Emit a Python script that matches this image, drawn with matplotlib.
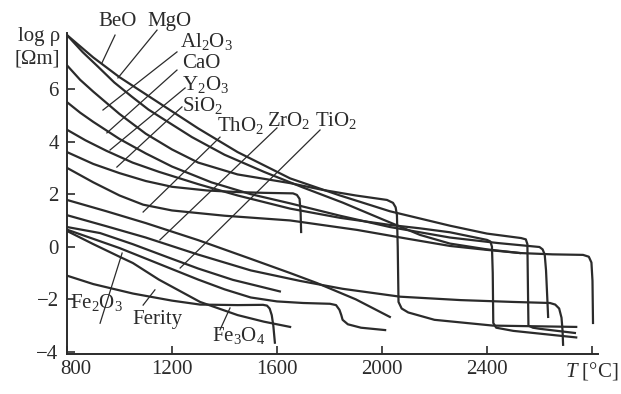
import matplotlib
matplotlib.use('Agg')
import matplotlib.pyplot as plt
import matplotlib.transforms as mtransforms


# resistivity curves, log rho [Ohm m] against T [C]
BEO_T = [800, 900, 1000, 1100, 1200, 1300, 1450, 1650, 1840, 2030, 2259, 2400, 2530, 2548, 2554,
         2556, 2558, 2575, 2600, 2735]
BEO_R = [8.05, 7.2, 6.45, 5.8, 5.15, 4.5, 3.6, 2.6, 1.95, 1.35, 0.8, 0.5, 0.33, 0.28, 0.1,
         -1.5, -3.0, -3.08, -3.12, -3.28]

MGO_T = [800, 860, 918, 980, 1048, 1110, 1173, 1276, 1400, 1550, 1700, 1850, 2000, 2145, 2259,
         2400, 2526, 2650, 2766, 2788, 2798, 2802, 2804]
MGO_R = [8.05, 7.4, 6.85, 6.25, 5.7, 5.22, 4.82, 4.17, 3.5, 2.85, 2.25, 1.68, 1.05, 0.45, 0.12,
         -0.1, -0.24, -0.29, -0.31, -0.38, -0.6, -1.3, -2.9]

AL2O3_T = [800, 850, 900, 1000, 1100, 1200, 1300, 1450, 1650, 1775, 1900, 2019, 2042, 2052, 2057,
           2060, 2063, 2075, 2100, 2200, 2423, 2740]
AL2O3_R = [6.9, 6.35, 5.9, 5.05, 4.3, 3.7, 3.2, 2.75, 2.42, 2.16, 1.95, 1.78, 1.67, 1.5, 1.2,
           0.0, -2.1, -2.35, -2.5, -2.78, -3.0, -3.05]

CAO_T = [800, 850, 900, 1000, 1100, 1200, 1350, 1500, 1650, 1840, 2030, 2259, 2442, 2600, 2612,
         2620, 2625, 2630, 2633]
CAO_R = [5.5, 5.1, 4.75, 4.1, 3.55, 3.05, 2.45, 2.0, 1.65, 1.18, 0.75, 0.35, 0.14, -0.01, -0.1,
         -0.3, -0.9, -2.0, -2.67]

Y2O3_T = [800, 870, 950, 1050, 1150, 1300, 1450, 1650, 1840, 2030, 2145, 2259, 2400, 2413, 2419,
          2422, 2424, 2435, 2500, 2740]
Y2O3_R = [4.45, 4.05, 3.65, 3.2, 2.85, 2.38, 1.95, 1.45, 1.1, 0.83, 0.7, 0.55, 0.26, 0.2, 0.0,
          -1.0, -2.9, -3.08, -3.2, -3.45]

SIO2_T = [800, 900, 1000, 1100, 1200, 1333, 1450, 1550, 1661, 1676, 1686, 1690, 1692]
SIO2_R = [3.6, 3.15, 2.8, 2.5, 2.28, 2.14, 2.08, 2.05, 2.03, 1.97, 1.82, 1.3, 0.56]

THO2_T = [800, 900, 1000, 1090, 1200, 1400, 1650, 1905, 2100, 2259, 2400, 2526]
THO2_R = [3.0, 2.45, 1.95, 1.6, 1.38, 1.18, 1.0, 0.64, 0.3, 0.03, -0.12, -0.24]

OTHER_T = [800, 950, 1100, 1300, 1497, 1650, 1752, 1900, 2030]
OTHER_R = [1.78, 1.35, 0.9, 0.25, -0.45, -1.0, -1.38, -2.0, -2.67]

ZRO2_T = [800, 950, 1100, 1300, 1500, 1688, 1850, 2069, 2300, 2500, 2640, 2660, 2675, 2684,
          2688, 2690]
ZRO2_R = [1.2, 0.78, 0.35, -0.3, -0.9, -1.3, -1.6, -1.9, -2.03, -2.1, -2.14, -2.2, -2.35, -2.7,
          -3.2, -3.73]

TIO2_T = [800, 900, 1000, 1100, 1200, 1300, 1400, 1500, 1600, 1700, 1802, 1825, 1838, 1845,
          1850, 1870, 1920, 2012]
TIO2_R = [0.65, 0.3, -0.05, -0.45, -0.85, -1.25, -1.62, -1.93, -2.08, -2.14, -2.17, -2.22, -2.4,
          -2.6, -2.78, -2.95, -3.08, -3.17]

FE2O3_T = [800, 926, 1050, 1181, 1300, 1432, 1530, 1611]
FE2O3_R = [0.75, 0.52, 0.1, -0.39, -0.83, -1.26, -1.5, -1.7]

FERITY_T = [800, 900, 1000, 1051, 1150, 1307, 1450, 1550, 1650]
FERITY_R = [0.6, 0.1, -0.38, -0.62, -1.25, -2.1, -2.6, -2.85, -3.05]

FE3O4_T = [800, 900, 1051, 1200, 1307, 1450, 1547, 1562, 1572, 1580, 1586, 1592]
FE3O4_R = [-1.1, -1.42, -1.78, -2.05, -2.2, -2.22, -2.21, -2.24, -2.35, -2.6, -3.0, -3.65]

X_TICKS = [800, 1200, 1600, 2000, 2400, 2800]
X_TICK_LABELS = ['800', '1200', '1600', '2000', '2400', '$T$ [°C]']
Y_TICKS = [-4, -2, 0, 2, 4, 6]

# label text, text anchor (left edge), leader line start, leader line end
LABELS = [
    ('BeO', (918, 8.55), (983, 8.05), (933, 6.99)),
    ('MgO', (1105, 8.55), (1143, 8.24), (994, 6.42)),
    ('Al$_2$O$_3$', (1230, 7.8), (1219, 7.41), (937, 5.20)),
    ('CaO', (1238, 6.98), (1219, 6.72), (952, 4.33)),
    ('Y$_2$O$_3$', (1238, 6.19), (1250, 6.04), (964, 3.68)),
    ('SiO$_2$', (1238, 5.39), (1238, 5.32), (990, 3.03)),
    ('ThO$_2$', (1371, 4.63), (1383, 4.17), (1090, 1.32)),
    ('ZrO$_2$', (1562, 4.82), (1600, 4.52), (1154, 0.26)),
    ('TiO$_2$', (1745, 4.82), (1764, 4.44), (1231, -0.81)),
    ('Fe$_2$O$_3$', (811, -2.14), (926, -2.91), (1010, -0.24)),
    ('Ferity', (1048, -2.78), (1090, -2.22), (1135, -1.64)),
    ('Fe$_3$O$_4$', (1352, -3.39), (1383, -3.16), (1421, -2.33)),
]

INK = '#2b2b2b'

plt.rcParams['font.family'] = ['Liberation Serif', 'DejaVu Serif']
plt.rcParams['mathtext.fontset'] = 'custom'
plt.rcParams['mathtext.rm'] = 'Liberation Serif'
plt.rcParams['mathtext.it'] = 'Liberation Serif:italic'
plt.rcParams['font.size'] = 15

fig = plt.figure(figsize=(6.21, 3.94), dpi=100)
ax = fig.add_axes([67 / 621, 1 - 354 / 394, 531 / 621, 321 / 394])

curves = [
    (BEO_T, BEO_R), (MGO_T, MGO_R), (AL2O3_T, AL2O3_R), (CAO_T, CAO_R),
    (Y2O3_T, Y2O3_R), (SIO2_T, SIO2_R), (THO2_T, THO2_R), (OTHER_T, OTHER_R),
    (ZRO2_T, ZRO2_R), (TIO2_T, TIO2_R), (FE2O3_T, FE2O3_R), (FERITY_T, FERITY_R),
    (FE3O4_T, FE3O4_R),
]
for t, r in curves:
    ax.plot(t, r, color=INK, lw=1.6, solid_joinstyle='round')

for text, pos, start, end in LABELS:
    ax.plot([start[0], end[0]], [start[1], end[1]], color=INK, lw=0.9, clip_on=False)
    ax.text(pos[0], pos[1], text, ha='left', va='center', color=INK)

# 'log rho' axis title sits at the top of the y axis
ax.text(773, 8.0, 'log ρ', ha='right', va='center', color=INK)
ax.text(773, 7.15, '[Ωm]', ha='right', va='center', color=INK)

ax.set_xlim(800, 2823)
ax.set_ylim(-4.08, 8.13)
ax.set_xticks(X_TICKS)
ax.set_xticklabels(X_TICK_LABELS)
ax.set_yticks(Y_TICKS)
ax.set_yticklabels([str(v).replace('-', '\u2212') for v in Y_TICKS])
ax.tick_params(direction='in', length=6, width=1.2, colors=INK, pad=4)
ax.tick_params(axis='y', pad=6)

# the '800' label sits a little right of the corner, clear of the '-4'
first = ax.get_xticklabels()[0]
first.set_transform(first.get_transform()
                    + mtransforms.ScaledTranslation(9 / 100, 0, fig.dpi_scale_trans))

for side in ['top', 'right']:
    ax.spines[side].set_visible(False)
for side in ['left', 'bottom']:
    ax.spines[side].set_linewidth(1.4)
    ax.spines[side].set_color(INK)

fig.savefig('out.png', dpi=100)
